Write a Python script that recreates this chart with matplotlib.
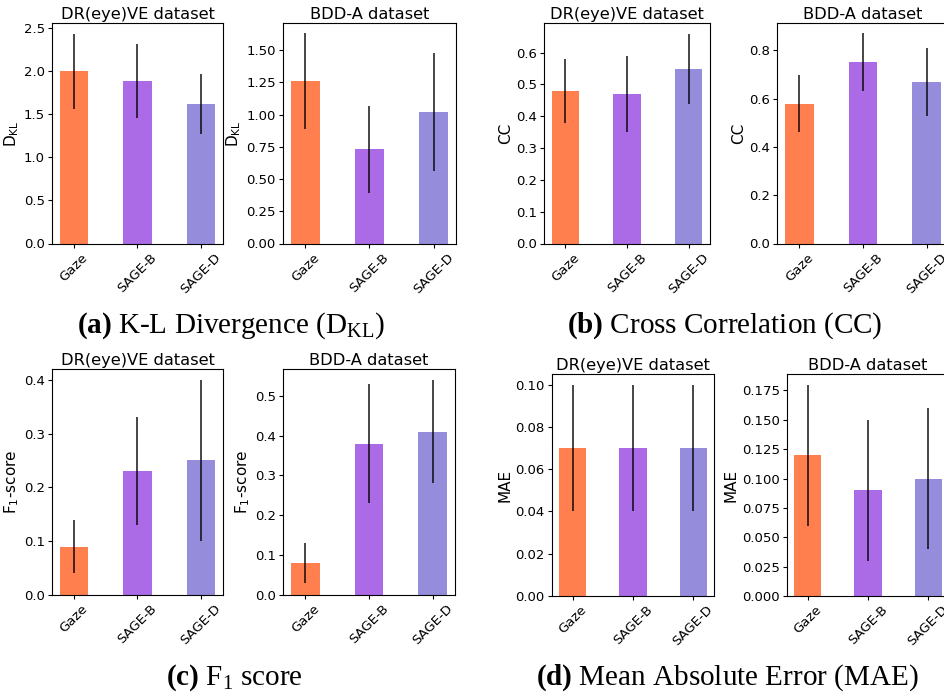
import numpy as np
import matplotlib.pyplot as plt
from matplotlib.ticker import MultipleLocator

plt.rcParams['mathtext.fontset'] = 'custom'
plt.rcParams['mathtext.rm'] = 'Liberation Serif'
plt.rcParams['mathtext.bf'] = 'Liberation Serif:bold'

models = ['Gaze', 'SAGE-B', 'SAGE-D']
colors = ['#FF7F4F', '#AB6AE6', '#968CDC']

# mean / std per metric, (DR(eye)VE, BDD-A)
kl_dreyeve = [2.00, 1.89, 1.62]
kl_dreyeve_err = [0.44, 0.43, 0.35]
kl_bdda = [1.26, 0.73, 1.02]
kl_bdda_err = [0.37, 0.34, 0.46]

cc_dreyeve = [0.48, 0.47, 0.55]
cc_dreyeve_err = [0.10, 0.12, 0.11]
cc_bdda = [0.58, 0.75, 0.67]
cc_bdda_err = [0.12, 0.12, 0.14]

f1_dreyeve = [0.09, 0.23, 0.25]
f1_dreyeve_err = [0.05, 0.10, 0.15]
f1_bdda = [0.08, 0.38, 0.41]
f1_bdda_err = [0.05, 0.15, 0.13]

mae_dreyeve = [0.07, 0.07, 0.07]
mae_dreyeve_err = [0.03, 0.03, 0.03]
mae_bdda = [0.12, 0.09, 0.10]
mae_bdda_err = [0.06, 0.06, 0.06]

W, H = 945, 696
fig = plt.figure(figsize=(W / 100, H / 100), dpi=100)


def panel(box, vals, errs, title, ylabel, step):
    l, r, t, b = box
    ax = fig.add_axes([l / W, 1 - b / H, (r - l) / W, (b - t) / H])
    x = np.arange(len(models))
    ax.bar(x, vals, width=0.45, color=colors, yerr=errs,
           error_kw=dict(ecolor='black', elinewidth=1.2, alpha=0.85))
    ax.set_xticks(x)
    ax.set_xticklabels(models, rotation=45, fontsize=9.5)
    ax.yaxis.set_major_locator(MultipleLocator(step))
    ax.tick_params(labelsize=9.5, length=2.7, pad=2.5)
    ax.set_title(title, fontsize=11.7, pad=3)
    ax.set_ylabel(ylabel, fontsize=11, labelpad=2)
    return ax


dkl = r'$\mathregular{D_{KL}}$'
f1 = r'$\mathregular{F_1}$-score'

panel((52, 223, 23, 243.5), kl_dreyeve, kl_dreyeve_err, 'DR(eye)VE dataset', dkl, 0.5)
panel((283, 456, 23, 243.5), kl_bdda, kl_bdda_err, 'BDD-A dataset', dkl, 0.25)
panel((544, 710, 23, 243.5), cc_dreyeve, cc_dreyeve_err, 'DR(eye)VE dataset', 'CC', 0.1)
panel((777, 949, 23, 243.5), cc_bdda, cc_bdda_err, 'BDD-A dataset', 'CC', 0.2)

panel((52, 223, 369, 595), f1_dreyeve, f1_dreyeve_err, 'DR(eye)VE dataset', f1, 0.1)
panel((283, 455, 369, 595), f1_bdda, f1_bdda_err, 'BDD-A dataset', f1, 0.1)
panel((552, 714, 374, 596), mae_dreyeve, mae_dreyeve_err, 'DR(eye)VE dataset', 'MAE', 0.02)
panel((787, 949, 374, 596), mae_bdda, mae_bdda_err, 'BDD-A dataset', 'MAE', 0.025)

cap = dict(ha='center', va='center', fontsize=21, family='Liberation Serif')
fig.text(231 / W, 1 - 326 / H, r'$\mathbf{(a)}$ K-L Divergence (D$_\mathregular{KL}$)', **cap)
fig.text(725 / W, 1 - 326 / H, r'$\mathbf{(b)}$ Cross Correlation (CC)', **cap)
fig.text(234 / W, 1 - 678 / H, r'$\mathbf{(c)}$ F$_\mathregular{1}$ score', **cap)
fig.text(727 / W, 1 - 678 / H, r'$\mathbf{(d)}$ Mean Absolute Error (MAE)', **cap)

plt.savefig('out.png', dpi=100)
